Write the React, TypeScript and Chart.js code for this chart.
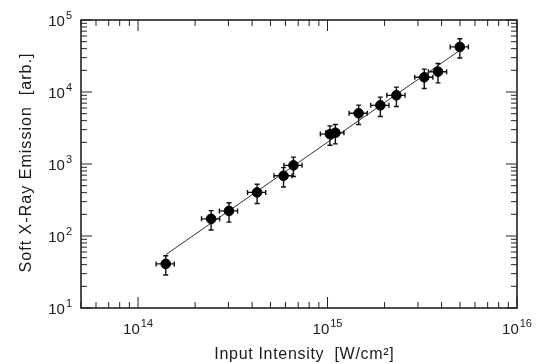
import React, { useEffect, useRef } from 'react';
import { Chart, registerables } from 'chart.js';

Chart.register(...registerables);

// ---- data ----
const intensity = [1.40e14, 2.43e14, 3.02e14, 4.25e14, 5.86e14, 6.61e14, 1.03e15, 1.10e15, 1.46e15, 1.90e15, 2.31e15, 3.24e15, 3.83e15, 4.99e15];
const emission = [41, 173, 223, 403, 686, 957, 2600, 2720, 5060, 6530, 8990, 16000, 19150, 42300];
const xErrFrac = [0.11, 0.11, 0.11, 0.11, 0.11, 0.11, 0.11, 0.11, 0.11, 0.11, 0.11, 0.11, 0.11, 0.11];
const yErrFrac = [0.3, 0.3, 0.3, 0.3, 0.3, 0.3, 0.3, 0.3, 0.3, 0.3, 0.3, 0.3, 0.3, 0.3];
const fitX = [1.4e14, 5.0e15];
const fitY = [55, 38000];
const xDecades = [13, 14, 15, 16];
const yDecades = [1, 2, 3, 4, 5];
const xLabelExps = [14, 15, 16];
const yLabelExps = [1, 2, 3, 4, 5];
const xRange = [5e13, 1e16];
const yRange = [10, 1e5];
const xTitle = 'Input Intensity  [W/cm\u00B2]';
const yTitle = 'Soft X-Ray Emission  [arb.]';

const FONT = '"Liberation Sans", Arial, Helvetica, sans-serif';
const INK = '#1a1a1a';

function drawSpaced(ctx: CanvasRenderingContext2D, text: string, cx: number, y: number, target: number) {
  (ctx as any).letterSpacing = '0px';
  const natural = ctx.measureText(text).width;
  const ls = Math.max(0, (target - natural) / text.length);
  (ctx as any).letterSpacing = ls + 'px';
  ctx.textAlign = 'left';
  ctx.fillText(text, cx - (natural + ls * (text.length - 1)) / 2, y);
  (ctx as any).letterSpacing = '0px';
}

function drawPow(ctx: CanvasRenderingContext2D, exp: number, anchorX: number, centerY: number, align: 'center' | 'right') {
  ctx.font = `15px ${FONT}`;
  const wBase = ctx.measureText('10').width;
  ctx.font = `11px ${FONT}`;
  const wExp = ctx.measureText(String(exp)).width;
  const total = wBase + 1 + wExp;
  const start = align === 'center' ? anchorX - total / 2 : anchorX - total;
  ctx.textAlign = 'left';
  ctx.textBaseline = 'alphabetic';
  ctx.font = `15px ${FONT}`;
  ctx.fillText('10', start, centerY + 5.5);
  ctx.font = `11px ${FONT}`;
  ctx.fillText(String(exp), start + wBase + 1, centerY - 1);
}

const decoPlugin = {
  id: 'deco',
  beforeDatasetsDraw(chart: any) {
    const { ctx, scales } = chart;
    const xs = scales.x, ys = scales.y;
    ctx.save();
    ctx.strokeStyle = '#111';
    ctx.lineWidth = 1.4;
    const cap = 2.5;
    intensity.forEach((xv, i) => {
      const yv = emission[i];
      const px = xs.getPixelForValue(xv);
      const py = ys.getPixelForValue(yv);
      const xl = xs.getPixelForValue(xv * (1 - xErrFrac[i]));
      const xh = xs.getPixelForValue(xv * (1 + xErrFrac[i]));
      const yl = ys.getPixelForValue(yv * (1 - yErrFrac[i]));
      const yh = ys.getPixelForValue(yv * (1 + yErrFrac[i]));
      ctx.beginPath();
      ctx.moveTo(xl, py); ctx.lineTo(xh, py);
      ctx.moveTo(xl, py - cap); ctx.lineTo(xl, py + cap);
      ctx.moveTo(xh, py - cap); ctx.lineTo(xh, py + cap);
      ctx.moveTo(px, yl); ctx.lineTo(px, yh);
      ctx.moveTo(px - cap, yl); ctx.lineTo(px + cap, yl);
      ctx.moveTo(px - cap, yh); ctx.lineTo(px + cap, yh);
      ctx.stroke();
    });
    ctx.restore();
  },
  afterDraw(chart: any) {
    const { ctx, scales, chartArea } = chart;
    const { left, right, top, bottom } = chartArea;
    const xs = scales.x, ys = scales.y;
    ctx.save();
    // frame
    ctx.strokeStyle = '#222';
    ctx.lineWidth = 1.6;
    ctx.strokeRect(left, top, right - left, bottom - top);
    // ticks
    ctx.lineWidth = 1;
    const major = 11, minor = 6;
    ctx.beginPath();
    xDecades.forEach((e) => {
      for (let m = 1; m <= 9; m++) {
        const v = m * Math.pow(10, e);
        if (v < xRange[0] * 0.999 || v > xRange[1] * 1.001) continue;
        const p = xs.getPixelForValue(v);
        const len = m === 1 ? major : minor;
        ctx.moveTo(p, bottom); ctx.lineTo(p, bottom - len);
        ctx.moveTo(p, top); ctx.lineTo(p, top + len);
      }
    });
    yDecades.forEach((e) => {
      for (let m = 1; m <= 9; m++) {
        const v = m * Math.pow(10, e);
        if (v < yRange[0] * 0.999 || v > yRange[1] * 1.001) continue;
        const p = ys.getPixelForValue(v);
        const len = m === 1 ? major : minor;
        ctx.moveTo(left, p); ctx.lineTo(left + len, p);
        ctx.moveTo(right, p); ctx.lineTo(right - len, p);
      }
    });
    ctx.stroke();
    // tick labels
    ctx.fillStyle = INK;
    xLabelExps.forEach((e) => {
      drawPow(ctx, e, xs.getPixelForValue(Math.pow(10, e)), 328, 'center');
    });
    yLabelExps.forEach((e) => {
      drawPow(ctx, e, 72, ys.getPixelForValue(Math.pow(10, e)), 'right');
    });
    // titles
    ctx.font = `16px ${FONT}`;
    ctx.textBaseline = 'alphabetic';
    drawSpaced(ctx, xTitle, 304, 359, 180);
    ctx.translate(31, 163);
    ctx.rotate(-Math.PI / 2);
    drawSpaced(ctx, yTitle, 0, 0, 220);
    ctx.restore();
  },
};

export default function App() {
  const ref = useRef<HTMLCanvasElement>(null);
  useEffect(() => {
    const canvas = ref.current;
    if (!canvas) return;
    const chart = new Chart(canvas, {
      type: 'scatter',
      data: {
        datasets: [
          {
            data: intensity.map((x, i) => ({ x, y: emission[i] })),
            backgroundColor: '#000',
            borderColor: '#000',
            pointRadius: 4.8,
            borderWidth: 1,
          },
          {
            data: fitX.map((x, i) => ({ x, y: fitY[i] })),
            showLine: true,
            borderColor: '#333',
            borderWidth: 1,
            pointRadius: 0,
            fill: false,
          } as any,
        ],
      },
      options: {
        animation: false,
        responsive: false,
        maintainAspectRatio: false,
        devicePixelRatio: 1,
        layout: { padding: { top: 20, right: 20, left: 0, bottom: 0 } },
        plugins: { legend: { display: false }, tooltip: { enabled: false } },
        scales: {
          x: {
            type: 'logarithmic',
            min: xRange[0],
            max: xRange[1],
            grid: { display: false },
            border: { display: false },
            ticks: { display: false },
            afterFit: (s: any) => { s.height = 56; },
          },
          y: {
            type: 'logarithmic',
            min: yRange[0],
            max: yRange[1],
            grid: { display: false },
            border: { display: false },
            ticks: { display: false },
            afterFit: (s: any) => { s.width = 81; },
          },
        },
      } as any,
      plugins: [decoPlugin],
    });
    return () => chart.destroy();
  }, []);
  return (
    <div style={{ position: 'fixed', left: 0, top: 0, width: 537, height: 364, background: '#fff' }}>
      <canvas ref={ref} width={537} height={364} style={{ display: 'block' }} />
    </div>
  );
}
